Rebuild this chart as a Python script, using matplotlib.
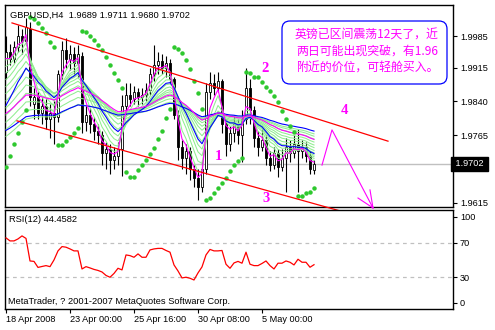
import matplotlib
matplotlib.use("Agg")
import matplotlib.pyplot as plt
from matplotlib.patches import FancyBboxPatch

# ---------------- data ----------------
opens = [1.9905, 1.9950, 1.9935, 1.9960, 1.9985, 1.9975, 2.0000, 1.9835, 1.9850, 1.9815,
         1.9830, 1.9800, 1.9815, 1.9805, 1.9900, 1.9955, 1.9935, 1.9945, 1.9925, 1.9940,
         1.9795, 1.9810, 1.9790, 1.9775, 1.9765, 1.9725, 1.9735, 1.9710, 1.9720, 1.9735,
         1.9830, 1.9855, 1.9845, 1.9860, 1.9850, 1.9855, 1.9865, 1.9900, 1.9920, 1.9930,
         1.9915, 1.9925, 1.9890, 1.9810, 1.9740, 1.9715, 1.9730, 1.9690, 1.9670, 1.9650,
         1.9690, 1.9860, 1.9880, 1.9870, 1.9885, 1.9790, 1.9745, 1.9770, 1.9790, 1.9765,
         1.9800, 1.9870, 1.9820, 1.9760, 1.9740, 1.9755, 1.9715, 1.9700, 1.9725, 1.9695,
         1.9715, 1.9740, 1.9725, 1.9745, 1.9730, 1.9740, 1.9720, 1.9689]
highs = [1.9985, 1.9968, 1.9975, 2.0010, 2.0000, 2.0025, 2.0015, 1.9870, 1.9860, 1.9850,
         1.9845, 1.9835, 1.9840, 1.9910, 1.9975, 1.9980, 1.9965, 1.9960, 1.9965, 1.9950,
         1.9830, 1.9825, 1.9805, 1.9790, 1.9775, 1.9750, 1.9745, 1.9740, 1.9750, 1.9855,
         1.9880, 1.9880, 1.9875, 1.9870, 1.9870, 1.9880, 1.9915, 1.9965, 1.9950, 1.9945,
         1.9940, 1.9935, 1.9895, 1.9820, 1.9755, 1.9745, 1.9740, 1.9700, 1.9690, 1.9710,
         1.9880, 1.9905, 1.9900, 1.9905, 1.9890, 1.9800, 1.9785, 1.9810, 1.9800, 1.9820,
         1.9915, 1.9890, 1.9830, 1.9775, 1.9780, 1.9765, 1.9730, 1.9740, 1.9735, 1.9735,
         1.9760, 1.9755, 1.9765, 1.9780, 1.9755, 1.9750, 1.9730, 1.9711]
lows = [1.9890, 1.9920, 1.9925, 1.9950, 1.9945, 1.9965, 1.9830, 1.9800, 1.9800, 1.9790,
        1.9780, 1.9760, 1.9745, 1.9795, 1.9890, 1.9915, 1.9910, 1.9900, 1.9895, 1.9770,
        1.9775, 1.9770, 1.9755, 1.9745, 1.9700, 1.9690, 1.9680, 1.9690, 1.9700, 1.9675,
        1.9810, 1.9830, 1.9835, 1.9830, 1.9835, 1.9840, 1.9855, 1.9885, 1.9900, 1.9900,
        1.9895, 1.9880, 1.9800, 1.9710, 1.9690, 1.9680, 1.9665, 1.9650, 1.9622, 1.9640,
        1.9680, 1.9845, 1.9855, 1.9860, 1.9770, 1.9720, 1.9730, 1.9750, 1.9745, 1.9705,
        1.9790, 1.9790, 1.9740, 1.9720, 1.9730, 1.9700, 1.9685, 1.9690, 1.9672, 1.9685,
        1.9640, 1.9705, 1.9715, 1.9640, 1.9715, 1.9705, 1.9680, 1.9680]
closes = [1.9950, 1.9935, 1.9960, 1.9985, 1.9975, 2.0005, 1.9850, 1.9850, 1.9815, 1.9830,
          1.9800, 1.9815, 1.9805, 1.9900, 1.9955, 1.9935, 1.9945, 1.9925, 1.9945, 1.9795,
          1.9810, 1.9790, 1.9775, 1.9765, 1.9725, 1.9735, 1.9710, 1.9720, 1.9735, 1.9830,
          1.9855, 1.9845, 1.9860, 1.9850, 1.9855, 1.9865, 1.9900, 1.9920, 1.9930, 1.9915,
          1.9925, 1.9890, 1.9810, 1.9740, 1.9715, 1.9730, 1.9690, 1.9670, 1.9650, 1.9690,
          1.9860, 1.9880, 1.9870, 1.9885, 1.9790, 1.9745, 1.9770, 1.9790, 1.9765, 1.9800,
          1.9870, 1.9820, 1.9760, 1.9740, 1.9755, 1.9715, 1.9700, 1.9725, 1.9695, 1.9715,
          1.9740, 1.9725, 1.9745, 1.9730, 1.9740, 1.9720, 1.9690, 1.9702]
sar = [1.9695, 1.9719, 1.9746, 1.9770, 1.9794, 1.9821,
       2.0027, 2.0023, 2.0014, 2.0003, 1.9992, 1.9972, 1.9961,
       1.9743, 1.9743, 1.9752, 1.9761, 1.9770, 1.9781,
       1.9996, 1.9994, 1.9985, 1.9976, 1.9965, 1.9954, 1.9938, 1.9921, 1.9903, 1.9887, 1.9870,
       1.9684, 1.9673, 1.9673, 1.9688, 1.9699, 1.9710, 1.9724, 1.9737, 1.9757, 1.9774, 1.9803, 1.9823,
       1.9961, 1.9956, 1.9947, 1.9932, 1.9912, 1.9885, 1.9859, 1.9823,
       1.9622, 1.9626, 1.9637, 1.9648, 1.9659, 1.9670, 1.9686, 1.9699, 1.9708, 1.9715,
       1.9905, 1.9903, 1.9894, 1.9894, 1.9883, 1.9872, 1.9863, 1.9852, 1.9839, 1.9819, 1.9801, 1.9786, 1.9772,
       1.9630, 1.9630, 1.9637, 1.9639, 1.9648]
rsi = [75.6, 72.1, 72.1, 74.4, 77.9, 75.0, 48.8, 48.3, 41.3, 42.4,
       43.4, 42.2, 50.0, 60.5, 65.5, 64.8, 62.8, 60.5, 60.5, 39.5,
       42.2, 40.7, 39.0, 37.8, 36.0, 32.0, 29.9, 34.3, 40.3, 38.4,
       55.8, 55.0, 53.1, 57.0, 53.1, 53.1, 61.6, 62.8, 63.4, 63.4,
       61.0, 59.0, 44.2, 37.2, 29.1, 29.9, 28.7, 26.7, 34.9, 41.9,
       55.8, 62.2, 60.5, 60.5, 61.0, 45.0, 40.3, 46.5, 48.3, 46.2,
       59.0, 45.0, 43.4, 43.4, 45.9, 48.8, 43.4, 39.5, 46.2, 46.2,
       48.8, 47.3, 44.2, 50.8, 47.3, 47.3, 41.5, 44.4582]

green_periods = [4, 6, 8, 10, 13, 16, 20, 24, 29, 35, 42, 50]
green_seeds = [1.9920, 1.9905, 1.9890, 1.9875, 1.9860, 1.9845, 1.9830, 1.9815, 1.9800, 1.9785, 1.9770, 1.9755]
magenta_periods = [3, 34]
magenta_seeds = [1.9920, 1.9805]
blue_periods = [12, 60]
blue_seeds = [1.9810, 1.9770]

price_ticks = [1.9985, 1.9915, 1.9840, 1.9765, 1.9690, 1.9615]
rsi_ticks = [100, 70, 30, 0]
rsi_levels = [70, 30]
time_tick_pos = [0, 16, 32, 48, 64]
time_tick_labels = ["18 Apr 2008", "23 Apr 00:00", "25 Apr 16:00", "30 Apr 08:00", "5 May 00:00"]

trend_upper_x = [1.5, 95.5]
trend_upper_y = [2.0014, 1.9752]
trend_lower_x = [2.75, 101.5]
trend_lower_y = [1.9797, 1.9553]
arrow_x = [79.0, 81.5, 91.75]
arrow_y = [1.9699, 1.9777, 1.9604]
arrow_head_x = [[88.0, 91.75], [91.0, 91.75]]
arrow_head_y = [[1.9626, 1.9604], [1.9644, 1.9604]]
mark_text = ["1", "2", "3", "4", "5"]
mark_x = [53.0, 64.75, 65.0, 84.5, 90.75]
mark_y = [1.9717, 1.9914, 1.9624, 1.9819, 1.9553]

title = "GBPUSD,H4  1.9689 1.9711 1.9680 1.9702"
rsi_title = "RSI(12) 44.4582"
footer = "MetaTrader, ? 2001-2007 MetaQuotes Software Corp."
note_lines = ["英镑已区间震荡12天了，近", "两日可能出现突破，有1.96", "附近的价位，可轻舱买入。"]
bid = 1.9702

# ---------------- figure ----------------
W, H = 495, 330
fig = plt.figure(figsize=(W / 100, H / 100), dpi=100)
fig.patch.set_facecolor("white")
FONT = "Liberation Sans"

def fx(px):
    return px / W

def fy(py):
    return 1 - py / H

ax = fig.add_axes([fx(5), fy(207), fx(453) - fx(5), fy(5) - fy(207)])
ax2 = fig.add_axes([fx(5), fy(309), fx(453) - fx(5), fy(210) - fy(309)])

n = len(closes)
xs = list(range(n))
XL = (-0.25, 111.75)

def ema(vals, period, seed):
    a = 2.0 / (period + 1)
    e = seed
    out = []
    for v in vals:
        e = e + a * (v - e)
        out.append(e)
    return out

# bid line
ax.axhline(bid, color="#c0c0c0", lw=1.0, zorder=1)

# candles
ax.vlines(xs, lows, highs, color="black", lw=0.8, zorder=2)
bottoms = [min(o, c) for o, c in zip(opens, closes)]
heights = [max(abs(c - o), 0.00006) for o, c in zip(opens, closes)]
colors = ["white" if c >= o else "black" for o, c in zip(opens, closes)]
ax.bar(xs, heights, bottom=bottoms, width=0.62, color=colors, edgecolor="black", lw=0.6, zorder=3)

# moving averages
for p, s in zip(green_periods, green_seeds):
    ax.plot(xs, ema(closes, p, s), color="#90ee90", lw=0.75, zorder=4)
for p, s in zip(blue_periods, blue_seeds):
    ax.plot(xs, ema(closes, p, s), color="#0000ff", lw=0.8, zorder=5)
for p, s in zip(magenta_periods, magenta_seeds):
    ax.plot(xs, ema(closes, p, s), color="#ff00ff", lw=0.8, zorder=5)

# parabolic SAR
ax.plot(xs, sar, ls="none", marker="o", ms=2.2, color="#2ec82e", zorder=6)

# trendlines & arrow
ax.plot(trend_upper_x, trend_upper_y, color="#ff0000", lw=0.9, zorder=7, clip_on=False)
ax.plot(trend_lower_x, trend_lower_y, color="#ff0000", lw=0.9, zorder=7, clip_on=False)
ax.plot(arrow_x, arrow_y, color="#ff00ff", lw=0.8, zorder=7, clip_on=False)
for hx, hy in zip(arrow_head_x, arrow_head_y):
    ax.plot(hx, hy, color="#ff00ff", lw=0.8, zorder=7, clip_on=False)
for t, x, y in zip(mark_text, mark_x, mark_y):
    ax.text(x, y, t, color="#ff00ff", fontsize=10.5, fontweight="bold", family="Liberation Serif",
            ha="center", va="center", zorder=8, clip_on=False)

ax.set_xlim(*XL)
ax.set_ylim(1.96061, 2.00537)
ax.set_xticks([])
ax.yaxis.tick_right()
ax.set_yticks(price_ticks)
# the 1.9690 label is hidden behind the bid-price box in the reference
ax.set_yticklabels(["" if abs(v - bid) < 0.0015 else f"{v:.4f}" for v in price_ticks])
ax.tick_params(axis="y", direction="out", length=3, width=0.8, pad=2, labelsize=6.6)
for lbl in ax.get_yticklabels():
    lbl.set_family(FONT)
for sp in ax.spines.values():
    sp.set_linewidth(1.0)
ax.text(1.0, bid, " 1.9702 ", transform=ax.get_yaxis_transform(), ha="left", va="center",
        color="white", fontsize=6.6, family=FONT, zorder=10, clip_on=False,
        bbox=dict(boxstyle="square,pad=0.25", fc="black", ec="black"))

# RSI panel
for lv in rsi_levels:
    ax2.axhline(lv, color="#c0c0c0", lw=0.9, ls=(0, (3, 3)), zorder=1)
ax2.plot(xs, rsi, color="#ff0000", lw=0.9, zorder=3)
ax2.set_xlim(*XL)
ax2.set_ylim(-7, 108)
ax2.yaxis.tick_right()
ax2.set_yticks(rsi_ticks)
ax2.set_yticklabels([str(v) for v in rsi_ticks])
ax2.tick_params(axis="y", direction="out", length=3, width=0.8, pad=2, labelsize=6.6)
ax2.set_xticks(time_tick_pos)
ax2.set_xticklabels(time_tick_labels)
ax2.tick_params(axis="x", direction="out", length=3, width=0.8, pad=1.5, labelsize=6.6)
for lbl in ax2.get_xticklabels():
    lbl.set_ha("left")
    lbl.set_family(FONT)
for lbl in ax2.get_yticklabels():
    lbl.set_family(FONT)
for sp in ax2.spines.values():
    sp.set_linewidth(1.0)

# texts
fig.text(fx(10), fy(15), title, fontsize=6.7, family=FONT, va="center", ha="left")
fig.text(fx(9), fy(220), rsi_title, fontsize=6.7, family=FONT, va="center", ha="left")
fig.text(fx(8), fy(302), footer, fontsize=6.7, family=FONT, va="center", ha="left")

box = FancyBboxPatch((2.82, (H - 84) / 100), 1.65, 0.63,
                     boxstyle="round,pad=0,rounding_size=0.08",
                     transform=fig.dpi_scale_trans, fc="white", ec="#0000ff", lw=0.9, zorder=20)
fig.patches.append(box)
for k, line in enumerate(note_lines):
    fig.text(fx(367), fy(35 + 16.5 * k), line, color="#ff00ff", fontsize=8.6,
             family=["Noto Sans CJK SC", "DejaVu Sans"], ha="center", va="center", zorder=21)

fig.savefig("out.png", dpi=100)
